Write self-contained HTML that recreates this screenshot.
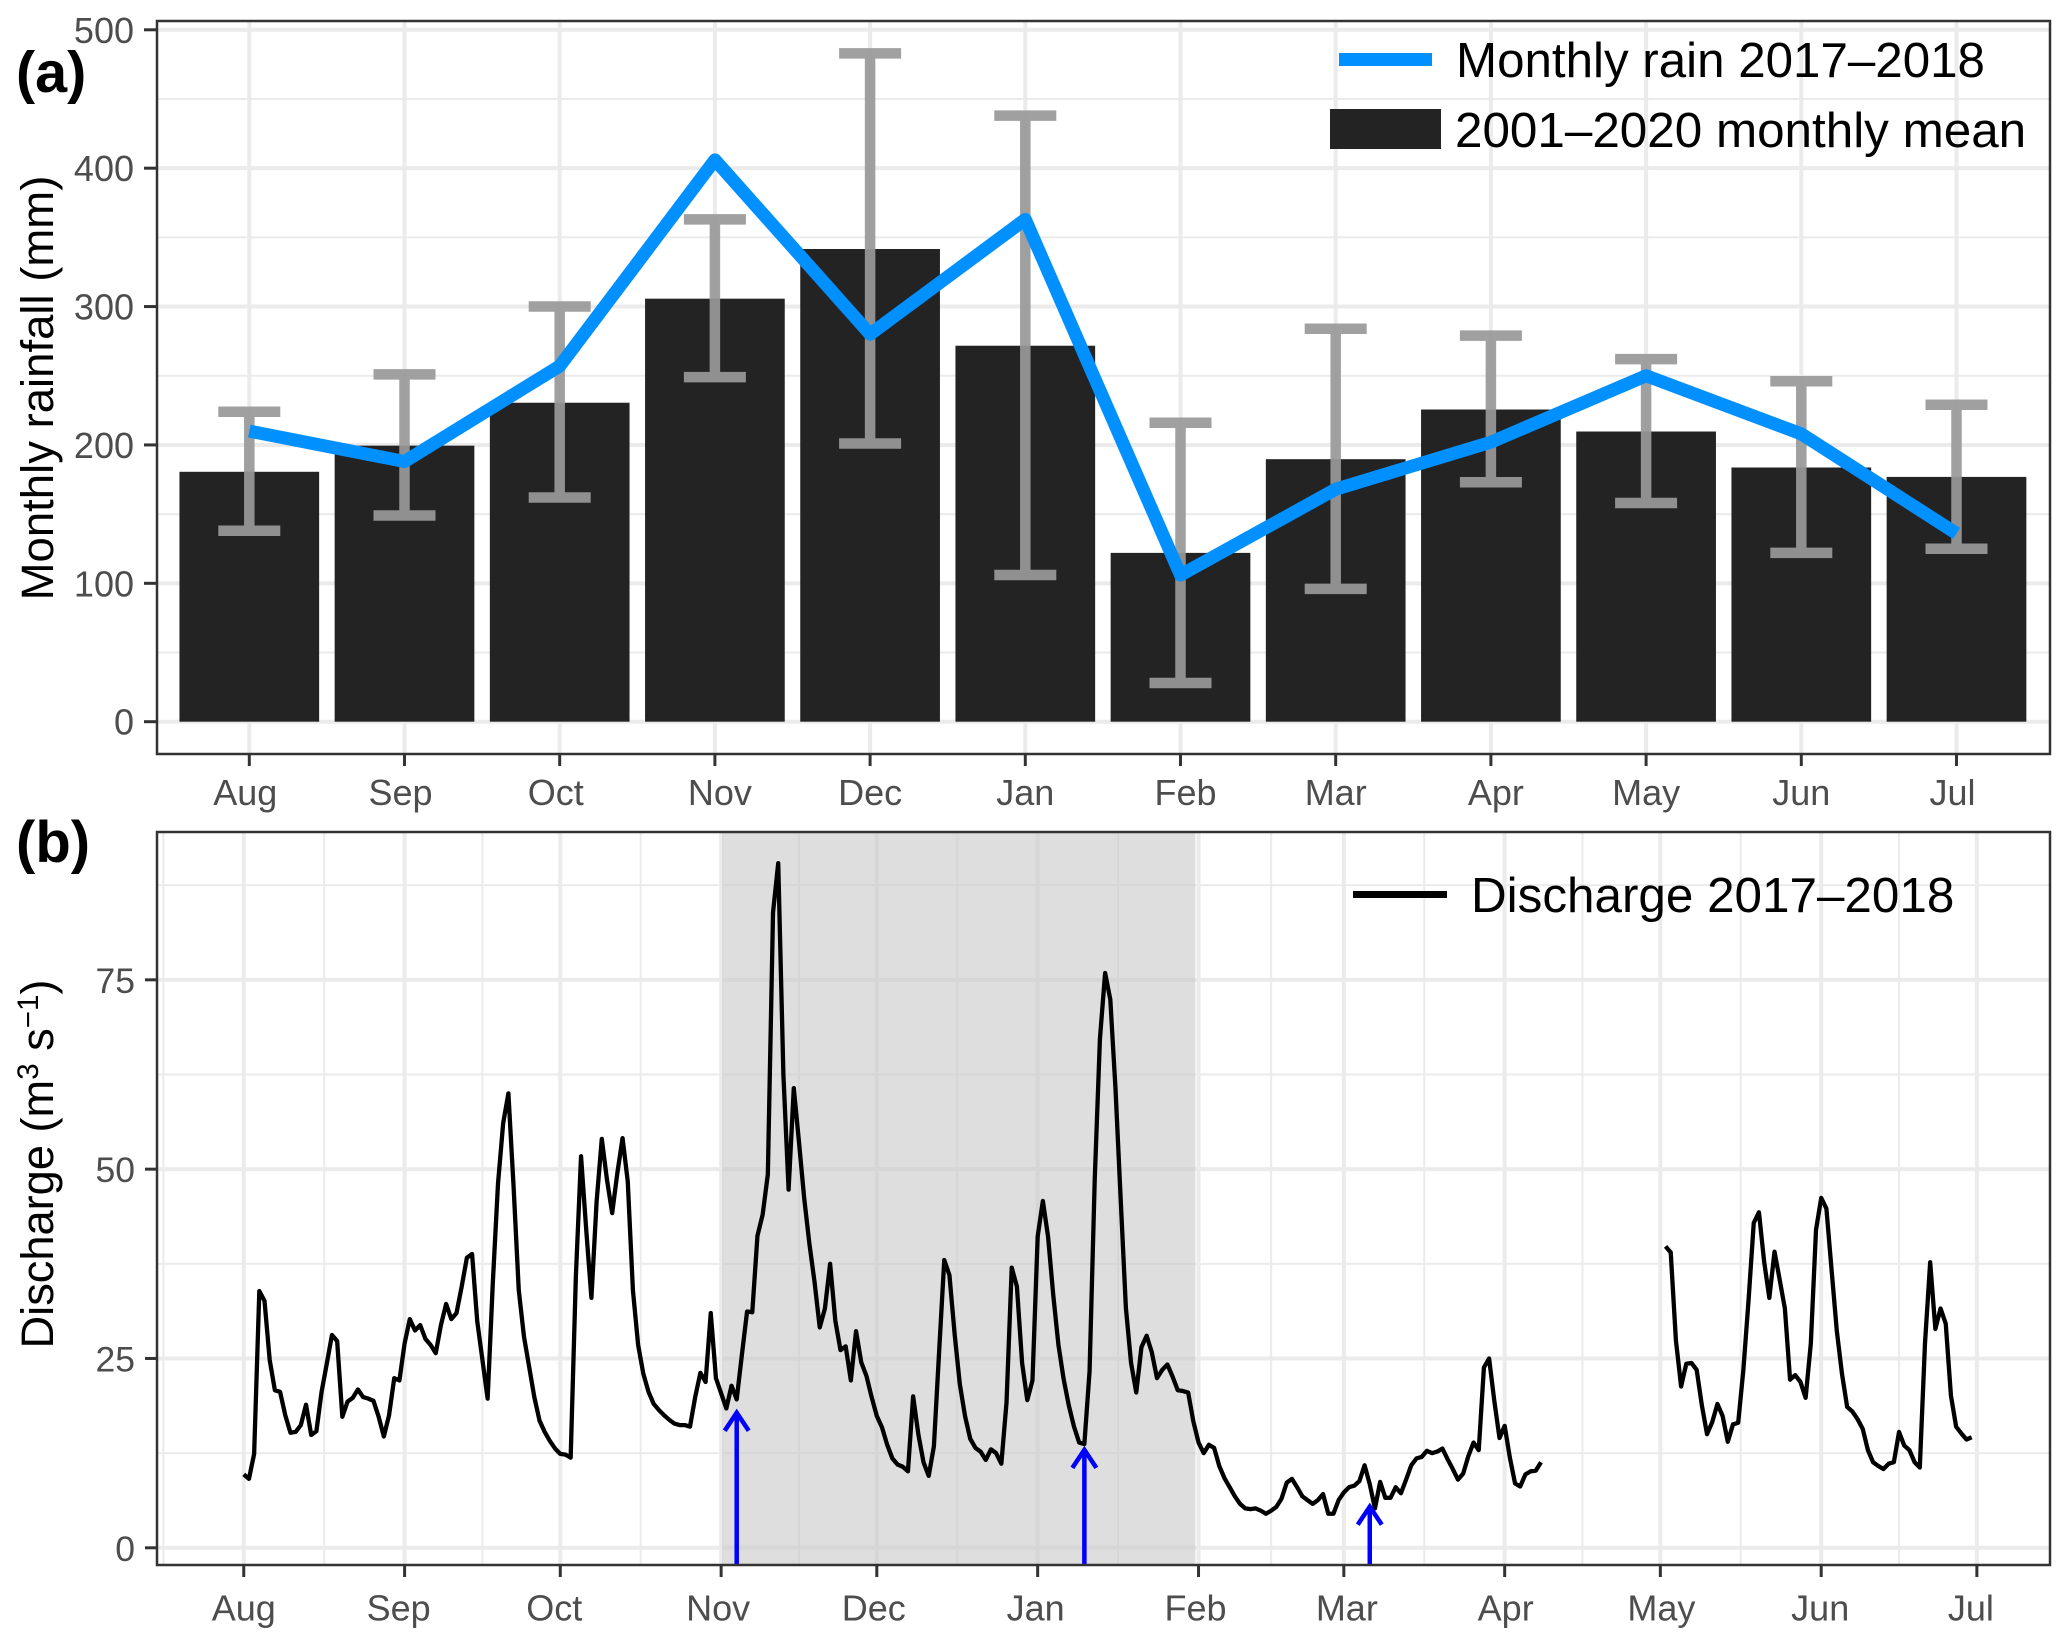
<!DOCTYPE html>
<html lang="en">
<head>
<meta charset="utf-8">
<title>Monthly rainfall and discharge 2017–2018</title>
<style>
  html, body { margin: 0; padding: 0; background: #fff; }
  svg { display: block; font-family: "Liberation Sans", Arial, sans-serif; }
</style>
</head>
<body>
<svg id="chart" xmlns="http://www.w3.org/2000/svg" width="2067" height="1647" viewBox="0 0 2067 1647">
  <rect x="0" y="0" width="2067" height="1647" fill="#fff"/>

  <g id="panel-a">
    <g id="a-grid"></g>
    <g id="a-bars"></g>
    <g id="a-errors"></g>
    <path id="a-line" fill="none" stroke="#0090ff" stroke-width="13" stroke-linejoin="round" stroke-linecap="butt"/>
    <rect x="157" y="21" width="1893" height="733" fill="none" stroke="#333" stroke-width="2.5"/>
    <g id="a-axes"></g>
    <text x="16" y="92" font-size="57.5" font-weight="bold" fill="#000">(a)</text>
    <text transform="translate(53,388) rotate(-90)" text-anchor="middle" font-size="45.5" fill="#000">Monthly rainfall (mm)</text>
    <g>
      <rect x="1339" y="53" width="93" height="13" fill="#0090ff"/>
      <text x="1456" y="77" font-size="49.3" fill="#000">Monthly rain 2017–2018</text>
      <rect x="1330" y="109" width="111" height="40" fill="#232323"/>
      <text x="1455" y="147" font-size="49.4" fill="#000">2001–2020 monthly mean</text>
    </g>
  </g>

  <g id="panel-b">
    <g id="b-grid"></g>
    <rect id="b-shade" y="832" height="733" fill="#c8c8c8" fill-opacity="0.6"/>
    <path id="b-line" fill="none" stroke="#000" stroke-width="4.3" stroke-linejoin="round" stroke-linecap="butt"/>
    <g id="b-arrows"></g>
    <rect x="157" y="832" width="1893" height="733" fill="none" stroke="#333" stroke-width="2.5"/>
    <g id="b-axes"></g>
    <text x="16" y="862" font-size="58" font-weight="bold" fill="#000">(b)</text>
    <text transform="translate(53,1164) rotate(-90)" text-anchor="middle" font-size="45.2" fill="#000">Discharge (m<tspan font-size="29.5" dy="-15">3</tspan><tspan dy="15"> s</tspan><tspan font-size="29.5" dy="-15">−1</tspan><tspan dy="15">)</tspan></text>
    <g>
      <rect x="1353" y="891" width="94" height="7" fill="#000"/>
      <text x="1471" y="912" font-size="49.4" fill="#000">Discharge 2017–2018</text>
    </g>
  </g>
</svg>

<script>
// ---------- Panel (a) data ----------
const rainMonths = ["Aug","Sep","Oct","Nov","Dec","Jan","Feb","Mar","Apr","May","Jun","Jul"];
const meanRainfall = [180.6,199.5,230.5,305.7,341.6,271.7,122,189.7,225.6,209.7,183.7,176.9];
const errorUpper = [224,251,300,363,483,438,216,284,279,262,246,229];
const errorLower = [138,149,162,249,201,106,28,96,173,158,122,125];
const monthlyRain = [210,188,257,406,280,363,106,168,202,250,208,136];
const rainTicks = [0,100,200,300,400,500];
const rainMinorTicks = [50,150,250,350,450];

// ---------- Panel (b) data ----------
const dischargeTickLabels = ["Aug","Sep","Oct","Nov","Dec","Jan","Feb","Mar","Apr","May","Jun","Jul"];
const dischargeTickDays = [0,31,61,92,122,153,184,212,243,273,304,334];
const dischargeTicks = [0,25,50,75];
const dischargeMinorTicks = [12.5,37.5,62.5,87.5];
const shadeStartDay = 92.2;
const shadeEndDay = 183.4;
const arrowDays = [95,162,217];
const arrowTipValues = [18.1,13.2,5.7];
// Daily discharge (m3/s), index = days since 1 Aug 2017; null = missing record
const dailyDischarge = [
  9.7,9.1,12.4,33.9,32.6,24.8,20.8,20.6,17.5,15.2,
  15.3,16.2,18.9,14.9,15.4,20.6,24.3,28.1,27.3,17.3,
  19.3,19.8,20.9,19.9,19.7,19.4,17.3,14.7,17.5,22.4,
  22.1,27,30.2,28.7,29.4,27.6,26.8,25.7,29.4,32.2,
  30.2,31,34.5,38.3,38.8,29.9,24.8,19.7,35,48.1,
  56.1,60,47.7,34,27.9,23.9,19.9,16.8,15.3,14.1,
  13.1,12.4,12.3,11.9,35.8,51.7,42,33,45.7,54,
  48.6,44.2,49.5,54.1,48.4,34,26.8,23,20.6,19,
  18.2,17.5,16.9,16.4,16.2,16.2,16,19.9,23.1,21.9,
  31,22.4,20.4,18.4,21.4,19.6,25.5,31.2,31.1,41.2,
  44,49.3,83.9,90.4,62.4,47.3,60.7,53.6,46.2,40.2,
  35.1,29.1,31.6,37.5,30,26.1,26.6,22.1,28.6,24.5,
  22.7,19.9,17.4,15.9,13.6,11.8,11,10.7,10.1,20,
  15,11.3,9.5,13.4,25.8,38,36,28.2,21.6,17.4,
  14.4,13.2,12.7,11.6,13,12.5,11.1,19.2,37,34.5,
  24.4,19.5,22.1,41.1,45.8,41.1,33.4,26.8,22.3,18.8,
  16,13.9,13.7,23.3,48.7,67.2,75.9,72.4,60.6,46,
  31.7,24.4,20.5,26.5,28,25.8,22.4,23.5,24.2,22.6,
  20.8,20.7,20.5,16.7,13.9,12.5,13.6,13.2,10.8,9.2,
  8,6.8,5.8,5.2,5.1,5.2,4.9,4.5,4.9,5.4,
  6.5,8.6,9.1,8,6.8,6.3,5.8,6.3,7.1,4.5,
  4.5,6.3,7.3,8,8.2,8.8,10.9,8.4,5.2,8.7,
  6.6,6.6,8,7.2,9,10.9,11.8,12,12.8,12.5,
  12.7,13.1,11.7,10.4,9,9.8,12.1,13.9,12.9,23.8,
  25,19.4,14.5,16.1,11.9,8.5,8.1,9.7,10.1,10.2,11.3,
  null,null,null,null,null,null,null,null,null,null,null,null,
  null,null,null,null,null,null,null,null,null,null,null,
  39.8,39,27.4,21.3,24.3,24.4,23.5,18.8,15,16.6,
  19,17.4,14,16.3,16.5,23.5,32.7,42.9,44.3,37.8,
  33,39.1,35.4,31.6,22.2,22.8,21.9,19.8,27,42,
  46.2,44.8,36.7,28.7,23,18.6,18,17,15.7,12.9,
  11.3,10.8,10.4,11.1,11.3,15.3,13.5,12.9,11.3,10.6,
  27,37.7,28.9,31.6,29.6,20.1,16,15.1,14.3,14.6
];

(function () {
  const NS = "http://www.w3.org/2000/svg";
  const PANEL_LEFT = 157, PANEL_RIGHT = 2050;
  const A_TOP = 21, A_BOTTOM = 754, B_TOP = 832, B_BOTTOM = 1565;

  // Axis functions
  const xA = i => 249.3 + 155.2 * i;
  const yA = v => 721.7 - 1.3838 * v;
  const xB = d => 243.75 + 5.189 * d;
  const yB = v => 1547.8 - 7.573 * v;

  function mk(tag, parent, attrs) {
    const el = document.createElementNS(NS, tag);
    for (const k in attrs) el.setAttribute(k, attrs[k]);
    parent.appendChild(el);
    return el;
  }
  const $ = id => document.getElementById(id);

  // ----- Panel (a) grid -----
  const aGrid = $("a-grid");
  rainMinorTicks.forEach(v => {
    const el = mk("line", aGrid, {x1: PANEL_LEFT, x2: PANEL_RIGHT, y1: yA(v), y2: yA(v), stroke: "#ebebeb", "stroke-width": 2});
    
    
  });
  rainTicks.forEach(v => {
    const el = mk("line", aGrid, {x1: PANEL_LEFT, x2: PANEL_RIGHT, y1: yA(v), y2: yA(v), stroke: "#ebebeb", "stroke-width": 4});
    
    
  });
  rainMonths.forEach((m, i) => {
    const el = mk("line", aGrid, {x1: xA(i), x2: xA(i), y1: A_TOP, y2: A_BOTTOM, stroke: "#ebebeb", "stroke-width": 4});
    
    
  });

  // ----- Panel (a) bars -----
  const barW = 139.7;
  meanRainfall.forEach((v, i) => {
    const el = mk("rect", $("a-bars"), {x: xA(i) - barW / 2, y: yA(v), width: barW, height: yA(0) - yA(v), fill: "#232323"});
    
    
  });

  // ----- Panel (a) error bars -----
  const capHalf = 31;
  errorUpper.forEach((hi, i) => {
    const lo = errorLower[i], cx = xA(i);
    const d = "M" + (cx - capHalf) + " " + yA(hi) + "H" + (cx + capHalf) +
              "M" + cx + " " + yA(hi) + "V" + yA(lo) +
              "M" + (cx - capHalf) + " " + yA(lo) + "H" + (cx + capHalf);
    const el = mk("path", $("a-errors"), {d: d, fill: "none", stroke: "#999", "stroke-opacity": 0.93, "stroke-width": 10.5});
    
    
  });

  // ----- Panel (a) rain line -----
  $("a-line").setAttribute("d", monthlyRain.map((v, i) => (i ? "L" : "M") + xA(i) + " " + yA(v)).join(""));

  // ----- Panel (a) axes -----
  const aAxes = $("a-axes");
  const aLabelNudge = [-4,-4,-4,5,0,0,5,0,5,0,0,-4];
  rainTicks.forEach(v => {
    const t = mk("line", aAxes, {x1: 144, x2: PANEL_LEFT, y1: yA(v), y2: yA(v), stroke: "#333", "stroke-width": 3});
    
    
    const l = mk("text", aAxes, {x: 134, y: yA(v) + 13, "text-anchor": "end", "font-size": 36, fill: "#4d4d4d"});
    
    
    l.textContent = v;
  });
  rainMonths.forEach((m, i) => {
    const t = mk("line", aAxes, {x1: xA(i), x2: xA(i), y1: A_BOTTOM, y2: A_BOTTOM + 12, stroke: "#333", "stroke-width": 3});
    
    
    const l = mk("text", aAxes, {x: xA(i) + aLabelNudge[i], y: 805, "text-anchor": "middle", "font-size": 36, fill: "#4d4d4d"});
    
    
    l.textContent = m;
  });

  // ----- Panel (b) grid -----
  const bGrid = $("b-grid");
  dischargeMinorTicks.forEach(v => {
    const el = mk("line", bGrid, {x1: PANEL_LEFT, x2: PANEL_RIGHT, y1: yB(v), y2: yB(v), stroke: "#ebebeb", "stroke-width": 2});
    
    
  });
  dischargeTicks.forEach(v => {
    const el = mk("line", bGrid, {x1: PANEL_LEFT, x2: PANEL_RIGHT, y1: yB(v), y2: yB(v), stroke: "#ebebeb", "stroke-width": 4});
    
    
  });
  dischargeTickDays.forEach((d, i) => {
    const prev = i === 0 ? d - 31 : dischargeTickDays[i - 1];
    const mid = (prev + d) / 2;
    const minor = mk("line", bGrid, {x1: xB(mid), x2: xB(mid), y1: B_TOP, y2: B_BOTTOM, stroke: "#ebebeb", "stroke-width": 2});
    
    
    const major = mk("line", bGrid, {x1: xB(d), x2: xB(d), y1: B_TOP, y2: B_BOTTOM, stroke: "#ebebeb", "stroke-width": 4});
    
    
  });

  // ----- Panel (b) shaded season -----
  const shade = $("b-shade");
  shade.setAttribute("x", xB(shadeStartDay));
  shade.setAttribute("width", xB(shadeEndDay) - xB(shadeStartDay));

  // ----- Panel (b) discharge line (breaks on missing days) -----
  let d = "", pen = false;
  dailyDischarge.forEach((v, i) => {
    if (v === null) { pen = false; return; }
    d += (pen ? "L" : "M") + xB(i).toFixed(2) + " " + yB(v).toFixed(2);
    pen = true;
  });
  $("b-line").setAttribute("d", d);

  // ----- Panel (b) arrows -----
  arrowDays.forEach((day, i) => {
    const x = xB(day), tip = yB(arrowTipValues[i]);
    const shaft = mk("line", $("b-arrows"), {x1: x, x2: x, y1: B_BOTTOM, y2: tip + 2, stroke: "#0000ff", "stroke-width": 4.5});
    
    
    const head = mk("path", $("b-arrows"), {d: "M" + (x - 12) + " " + (tip + 20) + "L" + x + " " + (tip + 2) + "L" + (x + 12) + " " + (tip + 20), fill: "none", stroke: "#0000ff", "stroke-width": 4.5});
    
    
  });

  // ----- Panel (b) axes -----
  const bAxes = $("b-axes");
  const bLabelNudge = [0,-6,-6,-3,-3,-2,-3,3,1,1,-1,-6];
  dischargeTicks.forEach(v => {
    const t = mk("line", bAxes, {x1: 145, x2: PANEL_LEFT, y1: yB(v), y2: yB(v), stroke: "#333", "stroke-width": 3});
    
    
    const l = mk("text", bAxes, {x: 135, y: yB(v) + 13, "text-anchor": "end", "font-size": 35.5, fill: "#4d4d4d"});
    
    
    l.textContent = v;
  });
  dischargeTickDays.forEach((day, i) => {
    const t = mk("line", bAxes, {x1: xB(day), x2: xB(day), y1: B_BOTTOM, y2: B_BOTTOM + 12, stroke: "#333", "stroke-width": 3});
    
    
    const l = mk("text", bAxes, {x: xB(day) + bLabelNudge[i], y: 1620.5, "text-anchor": "middle", "font-size": 36, fill: "#4d4d4d"});
    
    
    l.textContent = dischargeTickLabels[i];
  });
})();
</script>
</body>
</html>
